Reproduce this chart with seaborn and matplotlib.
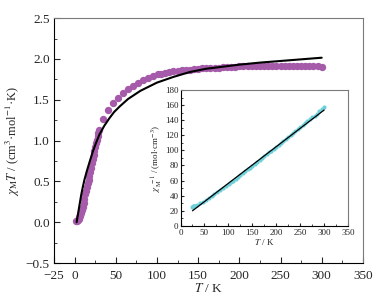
import matplotlib
matplotlib.use('Agg')
import matplotlib.pyplot as plt
from matplotlib.ticker import FixedLocator, MultipleLocator
import seaborn as sns

#-------------------------------------------------------
# chi_M T vs T (purple circles)
t_exp=[2,3,4,5,6,7,8,9,10,11,12,13,14,15,16,17,18,19,20,21,22,23,24,25,26,27,28,29,30,
	35,41,47,53,59,65,71,77,83,89,95,101,
	105,110,115,120,125,130,135,140,145,150,155,160,165,170,175,180,185,190,195,200,
	205,210,215,220,225,230,235,240,245,250,255,260,265,270,275,280,285,290,295,300]
chit_exp=[0.02,0.02,0.03,0.04,0.06,0.08,0.11,0.15,0.19,0.24,0.29,0.34,0.38,0.43,0.48,0.52,0.57,0.62,0.67,0.72,
	0.77,0.82,0.87,0.92,0.97,1.01,1.05,1.09,1.13,
	1.27,1.38,1.46,1.52,1.58,1.63,1.67,1.71,1.74,1.77,1.79,1.81,
	1.82,1.83,1.84,1.85,1.855,1.86,1.865,1.87,1.875,1.88,1.885,1.89,1.89,1.895,1.895,1.90,1.90,1.905,1.905,1.91,
	1.91,1.91,1.91,1.915,1.915,1.915,1.915,1.915,1.915,1.915,1.915,1.915,1.915,1.915,1.915,1.915,1.915,1.91,1.91,1.905]

# fit curve (black)
t_fit=[2.5,4,6,8,10,12,15,18,22,26,30,36,42,48,55,65,80,100,120,140,160,180,200,225,250,275,300]
chit_fit=[0.0,0.09,0.21,0.33,0.43,0.52,0.63,0.73,0.86,0.97,1.07,1.18,1.27,1.35,1.42,1.51,1.61,1.71,1.78,1.84,
	1.88,1.905,1.93,1.955,1.975,1.995,2.015]

# inset: 1/chi_M vs T (cyan) and linear fit
t_inv=[25,26,27,28,29,30,35,41,47,53,59,65,71,77,83,89,95,101,
	105,110,115,120,125,130,135,140,145,150,155,160,165,170,175,180,185,190,195,200,
	205,210,215,220,225,230,235,240,245,250,255,260,265,270,275,280,285,290,295,300]
chi_inv=[25.0,25.5,25.9,26.3,26.6,26.9,27.6,29.7,32.2,34.9,37.3,39.9,42.5,45.0,47.7,50.3,53.1,55.8,
	57.7,60.1,62.5,64.9,67.4,69.9,72.4,74.9,77.3,79.8,82.2,84.7,87.3,89.7,92.3,94.7,97.4,99.7,102.4,104.7,
	107.3,109.9,112.6,114.9,117.5,120.1,122.7,125.3,127.9,130.5,133.2,135.8,138.4,141.0,143.6,146.2,148.8,151.8,154.5,157.3]
t_inv_fit=[25,300]
chi_inv_fit=[20.0,153.5]

c_purple='#a65aaa'
c_cyan='#6fd0da'
c_frame='#7a7a7a'

#-------------------------------------------------------
sns.set_style('ticks')
plt.rcParams['font.family']=['Liberation Serif','DejaVu Serif']
plt.rcParams['mathtext.fontset']='stix'


def style_ax(ax, fs, maj, mnr, xpad, ypad):
	for s in ['top','right']:
		ax.spines[s].set_color(c_frame)
	for s in ['left','bottom']:
		ax.spines[s].set_color('black')
	for s in ax.spines.values():
		s.set_linewidth(0.8)
	ax.tick_params(which='both', direction='in', top=False, right=False, labelsize=fs)
	ax.tick_params(axis='x', which='both', pad=xpad)
	ax.tick_params(axis='y', which='both', pad=ypad)
	ax.tick_params(which='major', length=maj, width=0.8)
	ax.tick_params(which='minor', length=mnr, width=0.6)
	return


fig=plt.figure(figsize=(3.8, 3.02), dpi=100)

#main
ax=fig.add_axes([0.142, 0.129, 0.813, 0.811])
sns.scatterplot(x=t_exp, y=chit_exp, ax=ax, color=c_purple, s=28, linewidth=0, zorder=2)
sns.lineplot(x=t_fit, y=chit_fit, ax=ax, color='black', linewidth=1.5, sort=False, estimator=None, zorder=3)
ax.set_xlim(-25, 350)
ax.set_ylim(-0.5, 2.5)
ax.xaxis.set_major_locator(FixedLocator([-25,0,50,100,150,200,250,300,350]))
ax.xaxis.set_minor_locator(MultipleLocator(25))
ax.yaxis.set_major_locator(MultipleLocator(0.5))
ax.yaxis.set_minor_locator(MultipleLocator(0.25))
style_ax(ax, 9.5, 4, 2, 5, 3)
ax.set_xlabel(r'$T$ / K', fontsize=9.5, labelpad=0)
ax.set_ylabel(r'$\chi_{\rm M}T$ / (cm$^3$·mol$^{-1}$·K)', fontsize=9, labelpad=3)

#inset
axi=fig.add_axes([0.475, 0.252, 0.441, 0.450])
sns.scatterplot(x=t_inv, y=chi_inv, ax=axi, color=c_cyan, s=9, linewidth=0, zorder=2)
sns.lineplot(x=t_inv_fit, y=chi_inv_fit, ax=axi, color='black', linewidth=0.9, sort=False, estimator=None, zorder=3)
axi.set_xlim(0, 350)
axi.set_ylim(0, 180)
axi.xaxis.set_major_locator(MultipleLocator(50))
axi.xaxis.set_minor_locator(MultipleLocator(25))
axi.yaxis.set_major_locator(MultipleLocator(20))
axi.yaxis.set_minor_locator(MultipleLocator(10))
style_ax(axi, 6.5, 2.5, 1.5, 2, 1.5)
axi.set_xlabel(r'$T$ / K', fontsize=6.5, labelpad=0)
axi.set_ylabel(r'$\chi_{\rm M}^{\ -1}$ / (mol·cm$^{-3}$)', fontsize=6.5, labelpad=1)

plt.savefig('out.png', dpi=100)
plt.close()
